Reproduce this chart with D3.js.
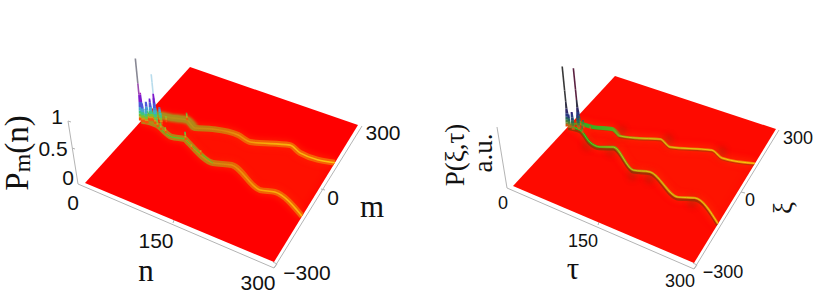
<!DOCTYPE html>
<html><head><meta charset="utf-8">
<script src="https://cdnjs.cloudflare.com/ajax/libs/d3/7.8.5/d3.min.js"></script>
<style>html,body{margin:0;padding:0;background:#fff}svg{display:block}</style>
</head><body><div id="c"></div>
<script>
const nTicks=[0,150,300];
const mTicks=[-300,0,300];
const zTicks=[0,0.5,1];
// ridge centre lines: n and m
const leftUpperN=[0,14,38,61,81,107,147,170,226,246,300];
const leftUpperM=[0,44,55,69,49,71,84,74,119,103,114];
const leftLowerN=[0,26,60,80,88,142,168,227,247,300];
const leftLowerM=[0,5,-19,-8,-16,-57,-38,-88,-75,-121];
const rightUpperN=[0,13,37,67,86,113,147,169,230,251,300];
const rightUpperM=[0,32,35,56,39,56,86,68,116,99,124];
const rightLowerN=[0,22,51,71,90,143,167,228,250,300];
const rightLowerM=[0,4,-30,-34,-15,-74,-57,-109,-89,-146];
// spikes near the start: n, m, height
const leftSpikeN=[0,18,2,5,8,11,14,21,24,28,32,12,36,30,38,48,62,82,100,118];
const leftSpikeM=[0,25,2,-3,10,-4,14,16,8,22,14,20,30,-2,-8,-14,68,-10,-36,-44];
const leftSpikeZ=[1,0.73,0.45,0.3,0.3,0.24,0.36,0.38,0.25,0.24,0.18,0.2,0.1,0.14,0.12,0.1,0.12,0.13,0.08,0.08];
const rightSpikeN=[0,14,4,8,12,17,20,25,30,36];
const rightSpikeM=[0,22,-3,5,-6,10,4,16,-6,22];
const rightSpikeZ=[1,0.95,0.22,0.25,0.2,0.22,0.18,0.14,0.12,0.08];
// dark shadows near the steps of the right panel
const shadowN=[84,160,246,50,90,146,172,250];
const shadowM=[58,92,120,-42,-30,-90,-78,-105];
const heightLevels=[0,0.04,0.07,0.11,0.16,0.22,0.3,0.42,0.6,1];
const leftLevelColors=["#ff2000","#f08010","#b8b020","#40d040","#38b8c8","#5090d8","#4a20d8","#b010c0","#8888a0","#888888"];
const rightLevelColors=["#ff3000","#a08020","#608030","#30803a","#205080","#302080","#303050","#303038","#404040","#303030"];
const hw=(c,u,v)=>{ // projective map of the unit square on four corners
  const [L,B,R,T]=c;
  const dx1=B[0]-R[0],dx2=T[0]-R[0],sx=L[0]-B[0]+R[0]-T[0];
  const dy1=B[1]-R[1],dy2=T[1]-R[1],sy=L[1]-B[1]+R[1]-T[1];
  const det=dx1*dy2-dx2*dy1;
  const g=(sx*dy2-dx2*sy)/det,h=(dx1*sy-sx*dy1)/det;
  const a=B[0]-L[0]+g*B[0],b=T[0]-L[0]+h*T[0],d=B[1]-L[1]+g*B[1],e=T[1]-L[1]+h*T[1];
  const w=g*u+h*v+1;
  return [(a*u+b*v+L[0])/w,(d*u+e*v+L[1])/w];
};
const svg=d3.select("#c").append("svg").attr("width",817).attr("height",303);
const defs=svg.append("defs");
[["b05",0.5],["b1",1],["b3",3],["b6",6],["b03",0.3]].forEach(([id,s])=>{
  defs.append("filter").attr("id",id).attr("filterUnits","userSpaceOnUse").attr("x",0).attr("y",0).attr("width",817).attr("height",303)
    .attr("color-interpolation-filters","sRGB")
    .append("feGaussianBlur").attr("stdDeviation",s);
});
const sx=d3.scaleLinear().domain([0,300]).range([0,1]);
const sy=d3.scaleLinear().domain([-300,300]).range([0,1]);
let gid=0;
function grad(x0,x1,stops){
  const id="g"+(gid++);
  const g=defs.append("linearGradient").attr("id",id).attr("gradientUnits","userSpaceOnUse")
    .attr("x1",x0).attr("x2",x1).attr("y1",0).attr("y2",0);
  stops.forEach(s=>g.append("stop").attr("offset",s[0]).attr("stop-color",s[1]).attr("stop-opacity",s[2]===undefined?1:s[2]));
  return `url(#${id})`;
}
function panel(p){
  const g=svg.append("g");
  const P=(n,m)=>hw(p.corners,sx(n),sy(m));
  const line=d3.line().curve(d3.curveMonotoneX);
  const up=p.upN.map((n,i)=>P(n,p.upM[i]));
  const lo=p.loN.map((n,i)=>P(n,p.loM[i]));
  // axes
  const ax=g.append("g").attr("fill","none").attr("stroke","#b4b4b4").attr("stroke-width",1);
  const A=p.axis;
  ax.append("path").attr("d",d3.line()([A.z1,A.o,A.bc,A.rc]));
  ax.append("path").attr("d",d3.line()([A.bc,[A.bc[0]+3,A.bc[1]-4],[A.bc[0]-1,A.bc[1]-6]]));
  p.nTickPos.forEach(t=>ax.append("path").attr("d",d3.line()(t)));
  // plane
  const corners=[P(0,-300),P(300,-300),P(300,300),P(0,300)];
  g.append("path").attr("d",d3.line()(corners)+"Z").attr("fill",p.plane).attr("filter","url(#b03)");
  // fan between branches
  const clipId="clip"+(gid++);
  defs.append("clipPath").attr("id",clipId).append("path").attr("d",d3.line()(corners)+"Z");
  const r=g.append("g").attr("clip-path",`url(#${clipId})`).attr("fill","none").attr("stroke-linecap","butt").attr("stroke-linejoin","round");
  r.append("path").attr("d",d3.line()([...up,...lo.slice().reverse()])+"Z").attr("fill",p.fan).attr("filter","url(#b6)").attr("opacity",0.4);
  p.draw(r,up,lo,line,P);
  // spikes
  const z=d3.scaleLinear().domain([0,1]).range([0,p.zPx]);
  const sg=g.append("g");
  const col=d3.scaleLinear().domain(heightLevels).range(p.levels);
  const order=d3.range(p.sN.length).sort((a,b)=>(p.sN[a]-p.sM[a]*0.3)-(p.sN[b]-p.sM[b]*0.3));
  order.forEach(i=>{
    const b=P(p.sN[i],p.sM[i]),top=p.sZ[i];
    const lv=[...heightLevels.filter(l=>l<top),top];
    const f=Math.min(1,Math.max(0.3,top*3));
    for(let k=0;k<lv.length-1;k++){
      const z0=lv[k],z1=lv[k+1];
      const wd=t=>(t>0.35?0.8:Math.max(0.8,(2.6-t*5)*f));
      const pt=(t,s)=>[b[0]+p.tilt*z(t)+s*wd(t),b[1]-z(t)];
      sg.append("path").attr("d",d3.line()([pt(z0,-1),pt(z0,1),pt(z1,1),pt(z1,-1)])+"Z")
        .attr("fill",(i===1&&p.topSecond&&z0>=0.42)?p.topSecond:col((z0+z1)/2));
    }
  });
  sg.attr("filter","url(#b05)");
  // tick labels and titles
  const T=g.append("g");
  p.labels.forEach(l=>{
    const e=T.append("text").text(l.t).attr("text-anchor","middle").attr("dominant-baseline","central")
      .attr("font-family",l.serif?"'Liberation Serif'":"'Liberation Sans'").attr("font-size",l.s).attr("fill","#111");
    e.attr("transform",`translate(${l.x},${l.y})`+(l.r?` rotate(${l.r})`:""));
    if(l.sub){ e.append("tspan").text(l.sub).attr("font-size",l.s*0.72).attr("dy",l.s*0.14);
      e.append("tspan").text(l.rest).attr("dy",-l.s*0.14); }
  });
}
panel({
  corners:[[85,183],[274,262],[358,125],[190,67]],plane:"#ff0000",fan:"#ff2a00",
  upN:leftUpperN,upM:leftUpperM,loN:leftLowerN,loM:leftLowerM,
  sN:leftSpikeN,sM:leftSpikeM,sZ:leftSpikeZ,zPx:62,tilt:-0.1,levels:leftLevelColors,topSecond:"#b8dcec",
  axis:{o:[78,184],z1:[68,121],bc:[274,268],rc:[362,126]},
  nTickPos:[[[173,223],[174,220]],[[325,190],[321,189]],[[72,148],[75,149]],[[68,121],[71,122]]],
  draw(r,up,lo,line){
    const st=(pts,w,c,f,o)=>r.append("path").attr("d",line(pts)).attr("stroke",c).attr("stroke-width",w).attr("filter",f?`url(#${f})`:null).attr("opacity",o===undefined?1:o);
    [up,lo].forEach((pts,i)=>{
      st(pts,8,"#ff3800","b3",0.5);
      st(pts,6,grad(150,335,[[0,"#b08818"],[0.3,"#c07c10"],[0.5,"#ee6404"],[1,"#f86204"]]),"b05");
      if(!i) st(pts.slice(0,5),8,grad(150,215,[[0,"#a88c20"],[0.7,"#b08818"],[1,"#c07c10",0]]),"b1");
      st(pts,1.6,grad(150,335,[[0,"#b89a18",0.3],[0.4,"#e09810",0.6],[0.6,"#f8a808"],[1,"#fcc410"]]),"b05");
      if(i) st(pts.slice(1,6),1,grad(160,225,[[0,"#20e030",0.9],[0.75,"#30e030",0.8],[1,"#30e030",0]]),"b03");
    });
  },
  labels:[
    {t:"1",x:57,y:116,s:21},{t:"0.5",x:53,y:148,s:21},{t:"0",x:68,y:177,s:21},
    {t:"0",x:73,y:202,s:21},{t:"150",x:156,y:240,s:21},{t:"300",x:258,y:282,s:21},
    {t:"\u2212300",x:307,y:272,s:21},{t:"0",x:333,y:197,s:21},{t:"300",x:383,y:132,s:21},
    {t:"n",x:146,y:270,s:31,serif:1},{t:"m",x:372,y:206,s:31,serif:1},
    {t:"P",sub:"m",rest:"(n)",x:17,y:153,s:33,serif:1,r:-90}
  ]
});
panel({
  corners:[[513,186],[694,263],[776,129],[615,76]],plane:"#fe0a00",fan:"#ff2200",
  upN:rightUpperN,upM:rightUpperM,loN:rightLowerN,loM:rightLowerM,
  sN:rightSpikeN,sM:rightSpikeM,sZ:rightSpikeZ,zPx:60,tilt:-0.1,levels:rightLevelColors,topSecond:"#5a2040",
  axis:{o:[507,188],z1:[497,127],bc:[694,269],rc:[779,130]},
  nTickPos:[[[598,225],[599,222]],[[745,193],[741,192]]],
  draw(r,up,lo,line,P){
    shadowN.forEach((n,i)=>{
      const c=P(n,shadowM[i]);
      r.append("ellipse").attr("cx",c[0]).attr("cy",c[1]).attr("rx",4).attr("ry",6).attr("fill","#7a3010").attr("opacity",0.4).attr("filter","url(#b3)").attr("stroke","none");
    });
    const st=(pts,w,c,f,o,dy)=>r.append("path").attr("d",line(pts)).attr("stroke",c).attr("stroke-width",w).attr("filter",f?`url(#${f})`:null).attr("opacity",o===undefined?1:o).attr("transform",dy?`translate(0,${dy})`:null);
    [up,lo].forEach((pts,i)=>{
      st(pts,7,"#ff3c00","b3",0.45);
      if(i) st(pts,3,grad(580,720,[[0,"#6a4008",0.8],[1,"#7a3008",0.7]]),"b05",0.8,2);
      else st(pts,1.6,"#8a4008","b05",0.5,1.5);
      st(pts,2.4,grad(580,760,[[0,"#28a018"],[0.22,"#80a010"],[0.38,"#d08808"],[1,"#f87c04"]]),"b03");
      st(pts,0.9,grad(580,760,[[0,"#50c020"],[0.25,"#d0c018"],[1,"#fcd810"]]),"b03");
      if(!i) st(pts.slice(1,5),4,grad(580,625,[[0,"#28b020"],[0.7,"#50b020"],[1,"#80a020",0]]),"b05");
    });
  },
  labels:[
    {t:"0",x:503,y:203,s:18},{t:"150",x:583,y:241,s:18},{t:"300",x:680,y:281,s:18},
    {t:"\u2212300",x:723,y:272,s:18},{t:"0",x:750,y:200,s:18},{t:"300",x:798,y:138,s:18},
    {t:"\u03c4",x:573,y:268,s:31,serif:1},{t:"\u03be",x:783,y:208,s:27,serif:1,r:-90},
    {t:"P(\u03be,\u03c4)",x:455,y:155,s:27,serif:1,r:-90},{t:"a.u.",x:483,y:153,s:27,serif:1,r:-90}
  ]
});
</script></body></html>
